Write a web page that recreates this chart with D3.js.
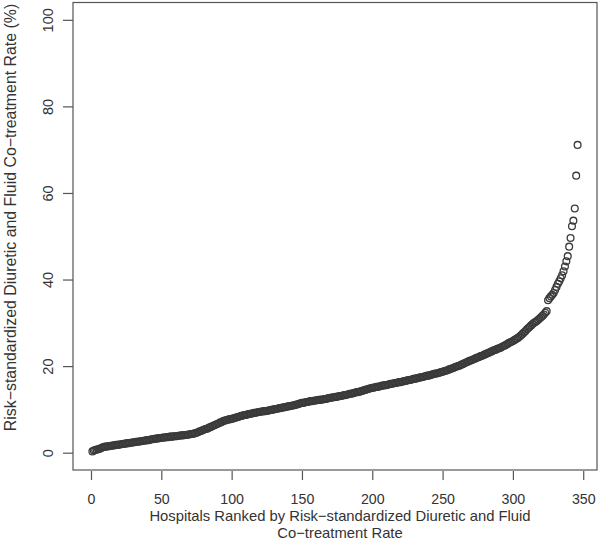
<!DOCTYPE html>
<html>
<head>
<meta charset="utf-8">
<script src="https://cdn.jsdelivr.net/npm/d3@7"></script>
<style>
  html, body { margin: 0; padding: 0; background: #fff; }
  svg { display: block; font-family: "Liberation Sans", Arial, Helvetica, sans-serif; }
</style>
</head>
<body>
<svg id="chart" width="600" height="541"></svg>
<script>
// Risk-standardized diuretic and fluid co-treatment rate (%), hospitals ranked 1..346
const rates = [
  0.3, 0.5, 0.6, 0.7, 0.8, 0.9, 1.0, 1.2, 1.3, 1.4,
  1.4, 1.5, 1.5, 1.6, 1.6, 1.7, 1.7, 1.8, 1.8, 1.9,
  1.9, 2.0, 2.0, 2.1, 2.1, 2.2, 2.2, 2.3, 2.3, 2.4,
  2.4, 2.5, 2.5, 2.6, 2.6, 2.7, 2.7, 2.8, 2.8, 2.9,
  2.9, 3.0, 3.1, 3.1, 3.2, 3.2, 3.3, 3.3, 3.4, 3.4,
  3.5, 3.5, 3.5, 3.6, 3.6, 3.7, 3.7, 3.7, 3.8, 3.8,
  3.8, 3.9, 3.9, 4.0, 4.0, 4.0, 4.1, 4.1, 4.2, 4.2,
  4.3, 4.3, 4.4, 4.5, 4.6, 4.7, 4.9, 5.0, 5.1, 5.3,
  5.4, 5.5, 5.6, 5.8, 5.9, 6.1, 6.2, 6.4, 6.5, 6.7,
  6.8, 7.0, 7.1, 7.3, 7.4, 7.5, 7.6, 7.7, 7.7, 7.8,
  7.9, 8.0, 8.1, 8.2, 8.3, 8.4, 8.5, 8.6, 8.7, 8.7,
  8.8, 8.9, 9.0, 9.0, 9.1, 9.2, 9.2, 9.3, 9.4, 9.4,
  9.5, 9.5, 9.6, 9.6, 9.7, 9.7, 9.8, 9.9, 9.9, 10.0,
  10.1, 10.1, 10.2, 10.3, 10.3, 10.4, 10.5, 10.5, 10.6, 10.7,
  10.7, 10.8, 10.9, 10.9, 11.0, 11.1, 11.2, 11.3, 11.4, 11.5,
  11.5, 11.6, 11.7, 11.7, 11.8, 11.9, 11.9, 12.0, 12.0, 12.1,
  12.1, 12.2, 12.2, 12.3, 12.3, 12.4, 12.4, 12.5, 12.6, 12.7,
  12.7, 12.8, 12.8, 12.9, 12.9, 13.0, 13.1, 13.1, 13.2, 13.3,
  13.3, 13.4, 13.5, 13.6, 13.6, 13.7, 13.8, 13.9, 14.0, 14.0,
  14.1, 14.2, 14.3, 14.4, 14.5, 14.6, 14.7, 14.8, 14.9, 15.0,
  15.0, 15.1, 15.2, 15.2, 15.3, 15.4, 15.5, 15.5, 15.6, 15.6,
  15.7, 15.8, 15.9, 15.9, 16.0, 16.1, 16.1, 16.2, 16.3, 16.3,
  16.4, 16.5, 16.5, 16.6, 16.7, 16.8, 16.8, 16.9, 17.0, 17.1,
  17.1, 17.2, 17.3, 17.4, 17.4, 17.5, 17.6, 17.7, 17.8, 17.8,
  17.9, 18.0, 18.1, 18.2, 18.3, 18.3, 18.4, 18.5, 18.6, 18.7,
  18.8, 18.9, 19.0, 19.1, 19.3, 19.4, 19.5, 19.6, 19.8, 19.9,
  20.0, 20.1, 20.3, 20.4, 20.6, 20.7, 20.9, 21.0, 21.2, 21.3,
  21.4, 21.6, 21.7, 21.9, 22.0, 22.1, 22.3, 22.4, 22.5, 22.7,
  22.8, 23.0, 23.1, 23.3, 23.4, 23.6, 23.7, 23.8, 24.0, 24.1,
  24.2, 24.4, 24.6, 24.7, 24.9, 25.1, 25.3, 25.5, 25.6, 25.8,
  26.0, 26.2, 26.4, 26.6, 26.9, 27.2, 27.5, 27.8, 28.1, 28.5,
  28.8, 29.1, 29.4, 29.7, 30.0, 30.2, 30.4, 30.7, 31.0, 31.3,
  31.6, 31.9, 32.3, 32.7, 35.2, 35.7, 36.1, 36.5, 36.9, 37.6,
  38.3, 39.0, 39.6, 40.3, 41.0, 41.9, 43.0, 44.2, 45.4, 47.6,
  49.6, 52.3, 53.6, 56.4, 64.0, 71.1
];
const ranks = rates.map((_, i) => i + 1);
const xTicks = [0, 50, 100, 150, 200, 250, 300, 350];
const yTicks = [0, 20, 40, 60, 80, 100];
const xTitle = ["Hospitals Ranked by Risk\u2212standardized Diuretic and Fluid", "Co\u2212treatment Rate"];
const yTitle = "Risk\u2212standardized Diuretic and Fluid Co\u2212treatment Rate (%)";

const svg = d3.select("#chart");
const box = { left: 73, top: 2.5, right: 597, bottom: 470 };

// R-style 4% padded domains
const x = d3.scaleLinear().domain([1 - 0.04 * 345, 346 + 0.04 * 345]).range([box.left, box.right]);
const y = d3.scaleLinear().domain([-4, 104]).range([box.bottom, box.top]);

const axisColor = "#555";
const textColor = "#333";

// frame
svg.append("rect")
  .attr("x", box.left).attr("y", box.top)
  .attr("width", box.right - box.left).attr("height", box.bottom - box.top)
  .attr("fill", "none").attr("stroke", axisColor).attr("stroke-width", 1.2);

// x axis
const xAxis = d3.axisBottom(x).tickValues(xTicks).tickSize(9).tickPadding(14).tickFormat(d3.format("d"));
const gx = svg.append("g").attr("transform", `translate(0,${box.bottom + 1})`).call(xAxis);
gx.select(".domain").remove();
gx.selectAll(".tick line").attr("stroke", axisColor).attr("stroke-width", 1.2);
gx.selectAll(".tick text").attr("fill", textColor).style("font-size", "14.2px")
  .attr("font-family", "Liberation Sans, Arial, sans-serif");

// y axis
const yAxis = d3.axisLeft(y).tickValues(yTicks).tickSize(10).tickFormat(d3.format("d"));
const gy = svg.append("g").attr("transform", `translate(${box.left},0)`).call(yAxis);
gy.select(".domain").remove();
gy.selectAll(".tick line").attr("stroke", axisColor).attr("stroke-width", 1.2);
gy.selectAll(".tick text")
  .attr("fill", textColor).style("font-size", "14.5px")
  .attr("font-family", "Liberation Sans, Arial, sans-serif")
  .attr("x", null).attr("dy", null)
  .attr("text-anchor", "middle")
  .attr("transform", "translate(-20,0) rotate(-90)");

// titles
const xt = svg.append("text")
  .attr("text-anchor", "middle").attr("fill", textColor).style("font-size", "14.8px");
xt.selectAll("tspan").data(xTitle).join("tspan")
  .attr("x", 340).attr("y", (d, i) => 521 + i * 16.6).text(d => d);

svg.append("text")
  .attr("text-anchor", "middle").attr("fill", textColor).style("font-size", "15.9px")
  .attr("transform", `translate(15.5,${217.5}) rotate(-90)`)
  .text(yTitle);

// points
svg.append("g").selectAll("circle").data(ranks).join("circle")
  .attr("cx", d => x(d))
  .attr("cy", (d, i) => y(rates[i]))
  .attr("r", 3.4)
  .attr("fill", "none")
  .attr("stroke", "#3a3a3a")
  .attr("stroke-width", 1.3);
</script>
</body>
</html>
